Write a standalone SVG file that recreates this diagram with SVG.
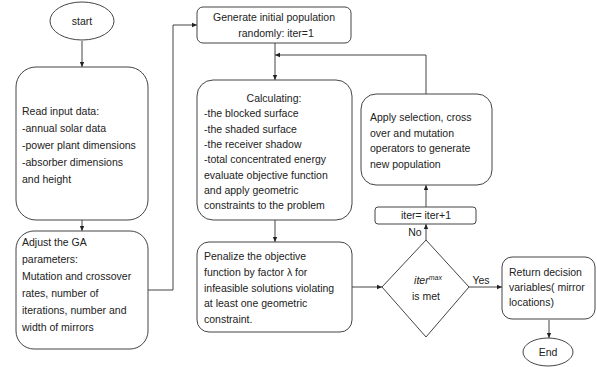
<svg xmlns="http://www.w3.org/2000/svg" width="597" height="367" viewBox="0 0 597 367">
<style>
.n{fill:#fff;stroke:#444;stroke-width:1}
.c{fill:none;stroke:#444;stroke-width:1}
text{font-family:"Liberation Sans",Arial,sans-serif;font-size:10.5px;fill:#222}
.m{text-anchor:middle}
</style>
<defs>
<marker id="a" markerWidth="6" markerHeight="6" refX="5" refY="3" orient="auto" markerUnits="userSpaceOnUse">
<path d="M0,0.8 L5,3 L0,5.2 Z" fill="#222"/>
</marker>
</defs>
<g id="connectors">
<path class="c" d="M82,41 V67" marker-end="url(#a)"/>
<path class="c" d="M82,220 V231" marker-end="url(#a)"/>
<path class="c" d="M148,290 H173 V25 H197" marker-end="url(#a)"/>
<path class="c" d="M275,43 V80" marker-end="url(#a)"/>
<path class="c" d="M426,94 V55 H275" marker-end="url(#a)"/>
<path class="c" d="M275,220 V242" marker-end="url(#a)"/>
<path class="c" d="M352,287 H382" marker-end="url(#a)"/>
<path class="c" d="M426,240 V224" marker-end="url(#a)"/>
<path class="c" d="M426,207 V185" marker-end="url(#a)"/>
<path class="c" d="M469,287 H502" marker-end="url(#a)"/>
<path class="c" d="M549,320 V338" marker-end="url(#a)"/>
<text x="415" y="236" class="m">No</text>
<text x="481" y="284" class="m">Yes</text>
</g>
<g id="start">
<ellipse class="n" cx="82" cy="21" rx="32" ry="19"/>
<text x="82" y="25" class="m">start</text>
</g>
<g id="read">
<rect class="n" x="16" y="67" width="132" height="153" rx="20"/>
<text x="22" y="115">Read input data:</text>
<text x="22" y="132">-annual solar data</text>
<text x="22" y="149">-power plant dimensions</text>
<text x="22" y="166">-absorber dimensions</text>
<text x="22" y="183">and height</text>
</g>
<g id="adjust">
<rect class="n" x="16" y="231" width="132" height="118" rx="18"/>
<text x="22" y="246">Adjust the GA</text>
<text x="22" y="263">parameters:</text>
<text x="22" y="280">Mutation and crossover</text>
<text x="22" y="297">rates, number of</text>
<text x="22" y="314">iterations, number and</text>
<text x="22" y="331">width of mirrors</text>
</g>
<g id="generate">
<rect class="n" x="197" y="7" width="154" height="36" rx="6"/>
<text x="274" y="21" class="m">Generate initial population</text>
<text x="276" y="37" class="m">randomly: iter=1</text>
</g>
<g id="calculating">
<rect class="n" x="197" y="80" width="155" height="140" rx="16"/>
<text x="274" y="102" class="m">Calculating:</text>
<text x="204" y="117">-the blocked surface</text>
<text x="204" y="132.5">-the shaded surface</text>
<text x="204" y="148">-the receiver shadow</text>
<text x="204" y="163">-total concentrated energy</text>
<text x="204" y="178.5">evaluate objective function</text>
<text x="204" y="194">and apply geometric</text>
<text x="204" y="209">constraints to the problem</text>
</g>
<g id="penalize">
<rect class="n" x="197" y="242" width="155" height="90" rx="12"/>
<text x="204" y="260">Penalize the objective</text>
<text x="204" y="276">function by factor λ for</text>
<text x="204" y="291.5">infeasible solutions violating</text>
<text x="204" y="307">at least one geometric</text>
<text x="204" y="322.5">constraint.</text>
</g>
<g id="apply">
<rect class="n" x="361" y="94" width="131" height="91" rx="15"/>
<text x="370" y="121">Apply selection, cross</text>
<text x="370" y="136.5">over and mutation</text>
<text x="370" y="152">operators to generate</text>
<text x="370" y="167.5">new population</text>
</g>
<g id="iter">
<rect class="n" x="375" y="207" width="101" height="17" rx="3"/>
<text x="426" y="219" class="m">iter= iter+1</text>
</g>
<g id="decision">
<path class="n" d="M426,240 L469,287 L426,337 L382,287 Z"/>
<text x="428" y="284" class="m"><tspan font-style="italic">iter</tspan><tspan font-style="italic" font-size="7" dy="-4">max</tspan></text>
<text x="426" y="300" class="m">is met</text>
</g>
<g id="return">
<rect class="n" x="502" y="257" width="93" height="62" rx="10"/>
<text x="509" y="276">Return decision</text>
<text x="509" y="291">variables( mirror</text>
<text x="509" y="305.5">locations)</text>
</g>
<g id="end">
<ellipse class="n" cx="548" cy="352" rx="25" ry="14"/>
<text x="548" y="356" class="m">End</text>
</g>
</svg>
